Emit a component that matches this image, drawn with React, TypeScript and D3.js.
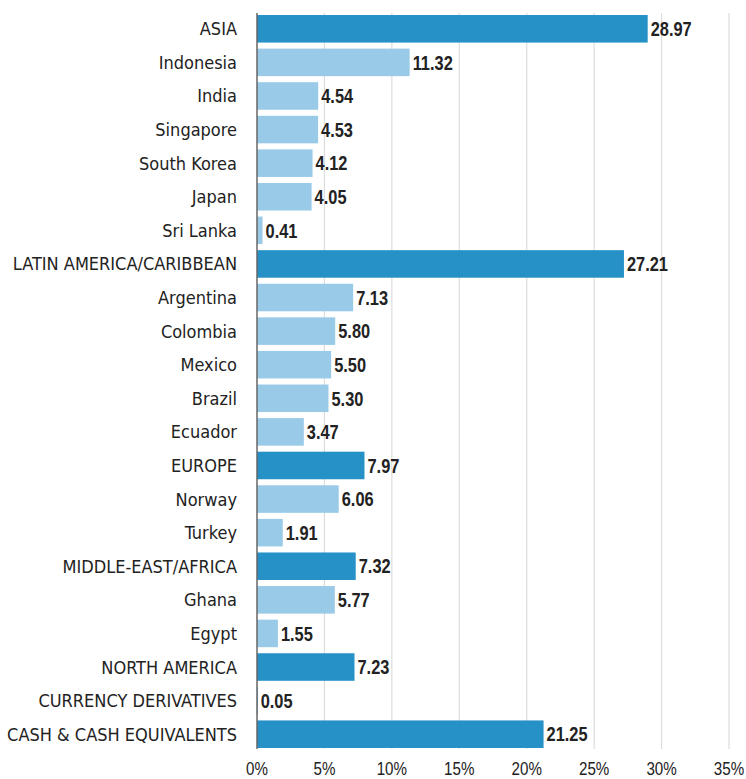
import * as d3 from "d3";

const categories = [
  "ASIA", "Indonesia", "India", "Singapore", "South Korea", "Japan", "Sri Lanka",
  "LATIN AMERICA/CARIBBEAN", "Argentina", "Colombia", "Mexico", "Brazil", "Ecuador",
  "EUROPE", "Norway", "Turkey", "MIDDLE-EAST/AFRICA", "Ghana", "Egypt",
  "NORTH AMERICA", "CURRENCY DERIVATIVES", "CASH & CASH EQUIVALENTS",
];
const values = [
  28.97, 11.32, 4.54, 4.53, 4.12, 4.05, 0.41,
  27.21, 7.13, 5.8, 5.5, 5.3, 3.47,
  7.97, 6.06, 1.91, 7.32, 5.77, 1.55,
  7.23, 0.05, 21.25,
];
const isRegion = [
  true, false, false, false, false, false, false,
  true, false, false, false, false, false,
  true, false, false, true, false, false,
  true, true, true,
];
const ticks = [0, 5, 10, 15, 20, 25, 30, 35];

const W = 746;
const H = 779;
const condensed = "'DejaVu Sans Condensed', sans-serif";
const narrow = "'Liberation Sans', Arial, sans-serif";
const squeeze = 0.82;

export default function App() {
  const x = d3.scaleLinear().domain([0, 35]).range([257, 729]);
  const y = d3.scaleBand<number>()
    .domain(d3.range(categories.length))
    .range([12, 751])
    .paddingInner(0.18)
    .paddingOuter(0.09);

  return (
    <svg width={W} height={H} style={{ position: "absolute", left: 0, top: 0 }}>
      {ticks.slice(1).map((t) => (
        <line key={t} x1={x(t)} x2={x(t)} y1={13} y2={749} stroke="#dcdcdc" strokeWidth={1.2} />
      ))}
      {values.map((v, i) => {
        const cy = y(i)! + y.bandwidth() / 2;
        return (
          <g key={i}>
            <rect
              x={x(0)}
              y={y(i)!}
              width={x(v) - x(0)}
              height={y.bandwidth()}
              fill={isRegion[i] ? "#2591c6" : "#99cae8"}
            />
            <text
              transform={`translate(${x(v) + 3},${cy}) scale(${squeeze},1)`}
              dy="0.36em"
              fontFamily={narrow}
              fontSize={20}
              fontWeight="bold"
              fill="#222"
            >
              {v.toFixed(2)}
            </text>
            <text
              x={237}
              y={cy}
              dy="0.36em"
              fontFamily={condensed}
              fontSize={18}
              textAnchor="end"
              fill="#222"
            >
              {categories[i]}
            </text>
          </g>
        );
      })}
      <line x1={x(0)} x2={x(0)} y1={13} y2={749} stroke="#666" strokeWidth={1.5} />
      {ticks.map((t) => (
        <text
          key={t}
          transform={`translate(${x(t)},775) scale(${squeeze},1)`}
          fontFamily={narrow}
          fontSize={18.5}
          textAnchor="middle"
          fill="#222"
        >
          {t}%
        </text>
      ))}
    </svg>
  );
}
